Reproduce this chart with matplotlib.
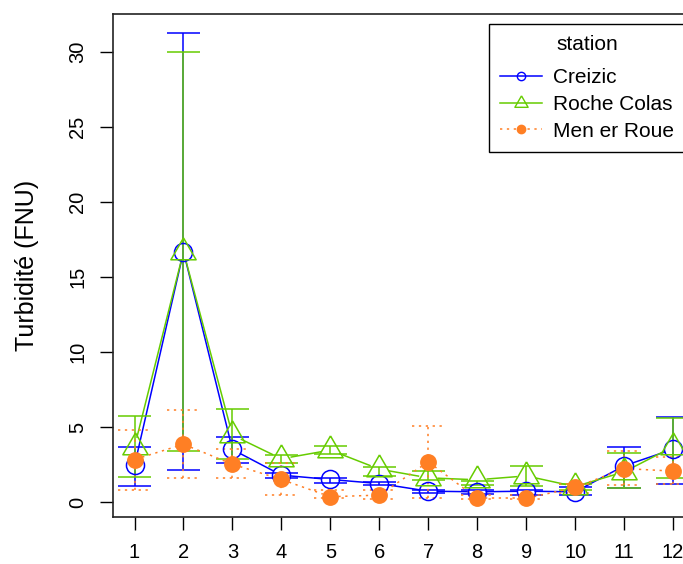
import numpy as np
import matplotlib
matplotlib.use("Agg")
import matplotlib.pyplot as plt
from matplotlib.lines import Line2D

plt.rcParams['font.family'] = ['Liberation Sans', 'DejaVu Sans']

months = np.arange(1, 13)
stations = ['Creizic', 'Roche Colas', 'Men er Roue']

creizic_mean = [2.45, 16.7, 3.51, 1.8, 1.51, 1.24, 0.73, 0.69, 0.73, 0.69, 2.42, 3.53]
creizic_hi = [3.65, 31.3, 4.35, 1.95, 1.62, 1.35, 0.84, 0.8, 0.84, 1.02, 3.69, 5.69]
creizic_lo = [1.07, 2.13, 2.62, 1.62, 1.29, 1.13, 0.62, 0.56, 0.47, 0.47, 0.95, 1.24]

roche_mean = [3.69, 16.7, 4.47, 2.89, 3.47, 2.2, 1.62, 1.49, 1.75, 1.04, 2.02, 3.69]
roche_hi = [5.73, 30.0, 6.24, 3.13, 3.75, 2.35, 2.1, 1.42, 2.42, 1.2, 3.29, 5.58]
roche_lo = [1.69, 3.4, 2.9, 2.58, 3.24, 1.73, 1.45, 1.13, 1.07, 0.78, 0.95, 1.58]

roue_mean = [2.84, 3.86, 2.53, 1.51, 0.36, 0.47, 2.69, 0.25, 0.25, 0.98, 2.24, 2.07]
roue_hi = [4.8, 6.13, 3.51, 2.58, 0.84, 0.8, 5.09, 0.47, 0.47, 1.24, 3.4, 2.98]
roue_lo = [0.8, 1.58, 1.58, 0.47, 0.25, 0.2, 0.25, 0.2, 0.18, 0.58, 1.13, 1.24]

blue = '#0000FF'
green = '#66CC00'
orange = '#FF7F24'
dots = (0, (1.5, 3))

# triangle centred on its centroid, like R's pch 2
tri = [(0, 1), (-0.866, -0.5), (0.866, -0.5), (0, 1)]

fig = plt.figure(figsize=(6.83, 5.64), dpi=100)
ax = fig.add_axes([113 / 683, 47 / 564, (694.6 - 113) / 683, (517 - 14) / 564])
ax.set_xlim(0.56, 12.44)
ax.set_ylim(-0.99, 32.54)


def gapped_line(x, y, color, ls, gap):
    # R type="b": segments stop short of the points
    pts = ax.transData.transform(np.column_stack([x, y]))
    inv = ax.transData.inverted()
    for p, q in zip(pts[:-1], pts[1:]):
        d = q - p
        L = np.hypot(*d)
        if L <= 2 * gap:
            continue
        u = d / L
        seg = inv.transform(np.array([p + u * gap, q - u * gap]))
        ax.plot(seg[:, 0], seg[:, 1], color=color, lw=1.1, ls=ls, zorder=2)


def error_bars(x, lo, hi, color, ls, half=0.34):
    ax.vlines(x, lo, hi, color=color, lw=1.1, linestyles=ls, zorder=2)
    ax.hlines(lo, x - half, x + half, color=color, lw=1.1, linestyles=ls, zorder=2)
    ax.hlines(hi, x - half, x + half, color=color, lw=1.1, linestyles=ls, zorder=2)


series = [
    (creizic_mean, creizic_lo, creizic_hi, blue, '-', 'o', 13, 'none', 9),
    (roche_mean, roche_lo, roche_hi, green, '-', tri, 21, 'none', 10),
    (roue_mean, roue_lo, roue_hi, orange, dots, 'o', 11, orange, 8),
]
for mean, lo, hi, col, ls, mk, ms, fc, gap in series:
    error_bars(months, np.array(lo), np.array(hi), col, ls)
    gapped_line(months, mean, col, ls, gap)
    ax.plot(months, mean, ls='none', marker=mk, ms=ms, mfc=fc, mec=col,
            mew=1.1, zorder=3)

ax.set_xticks(months)
ax.set_yticks([0, 5, 10, 15, 20, 25, 30])
ax.tick_params(axis='both', direction='out', length=9.5, width=1.0,
               labelsize=14.5, color='black')
ax.tick_params(axis='x', pad=9)
ax.tick_params(axis='y', pad=9)
for lab in ax.get_yticklabels():
    lab.set_rotation(90)
    lab.set_va('center')
ax.set_ylabel('Turbidité (FNU)', fontsize=18, labelpad=21)
for s in ax.spines.values():
    s.set_linewidth(1.2)
    s.set_color('#222222')

handles = [
    Line2D([], [], color=blue, lw=1.1, marker='o', ms=6, mfc='none', mec=blue),
    Line2D([], [], color=green, lw=1.1, marker=tri, ms=11, mfc='none', mec=green),
    Line2D([], [], color=orange, lw=1.1, ls=dots, marker='o', ms=6, mfc=orange, mec=orange),
]
leg = ax.legend(handles, stations, title='station', loc='upper left',
                bbox_to_anchor=(489 / 683, 1 - 24 / 564), bbox_transform=fig.transFigure,
                borderaxespad=0, fontsize=15, title_fontsize=15, frameon=True,
                fancybox=False, edgecolor='black', framealpha=1, handlelength=2.0,
                handletextpad=0.5, labelspacing=0.37, borderpad=0.55)
leg.get_frame().set_linewidth(1.0)
leg._legend_box.sep = 10

fig.savefig('out.png', dpi=100)
